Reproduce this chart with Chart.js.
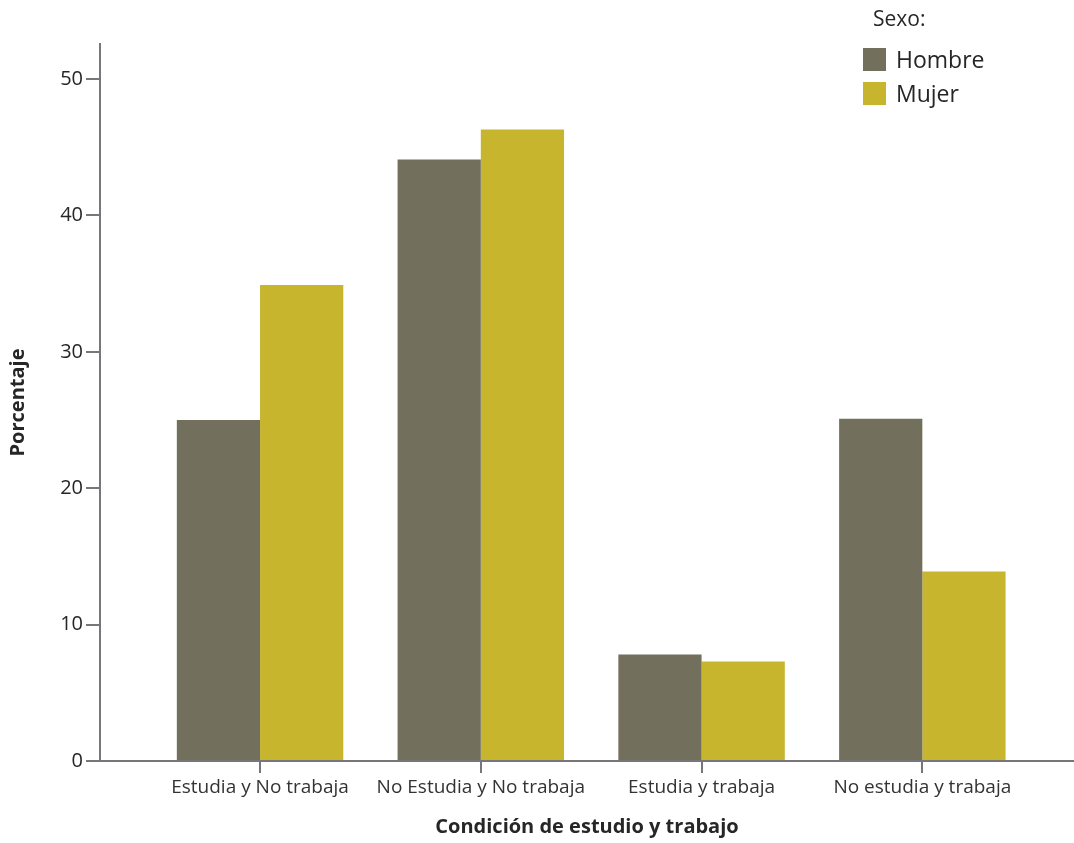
<!DOCTYPE HTML>
<html>
<head>
   <meta charset="utf-8">
   <title>Condición de estudio y trabajo</title>
   <script src="https://cdn.jsdelivr.net/npm/chart.js"></script>
   <style>
     body { margin: 0; background: #fff; font-family: "Open Sans", sans-serif; }
     #wrap { position: relative; width: 1074px; height: 843px; }
     #legend { position: absolute; left: 863px; top: 4px; color: #262626; }
     #legend .ttl { font-size: 21px; margin-left: 10px; height: 38px; }
     #legend .row { display: flex; align-items: center; height: 34px; font-size: 23px; }
     #legend .box { width: 23px; height: 23px; margin-right: 10px; }
   </style>
</head>
<body>
  <div id="wrap">
    <canvas id="myChart"></canvas>
    <div id="legend"></div>
  </div>

  <script type="text/javascript">
    var categorias = ["Estudia y No trabaja", "No Estudia y No trabaja", "Estudia y trabaja", "No estudia y trabaja"];
    var hombre = [25.0, 44.1, 7.8, 25.1];
    var mujer  = [34.9, 46.3, 7.3, 13.9];
    var yTicks = [0, 10, 20, 30, 40, 50];

    var colores = { hombre: '#72705c', mujer: '#c6b52d' };
    var gris = '#77777b';

    // bars on a linear x scale so the axis can run past the outer categories
    function puntos(arr) {
      return arr.map(function (v, i) { return { x: i, y: v }; });
    }

    var ctx = document.getElementById('myChart');
    var myChart = new Chart(ctx, {
      type: 'bar',
      data: {
        datasets: [
          { label: 'Hombre', data: puntos(hombre), backgroundColor: colores.hombre },
          { label: 'Mujer',  data: puntos(mujer),  backgroundColor: colores.mujer }
        ]
      },
      options: {
        responsive: true,
        maintainAspectRatio: false,
        animation: false,
        barPercentage: 1,
        categoryPercentage: 0.754,
        layout: { padding: { top: 44, left: 0, right: 0, bottom: 0 } },
        plugins: {
          legend: { display: false },
          tooltip: { enabled: false }
        },
        scales: {
          x: {
            type: 'linear',
            offset: false,
            min: -0.725,
            max: 3.687,
            afterBuildTicks: function (s) {
              s.ticks = categorias.map(function (c, i) { return { value: i }; });
            },
            afterFit: function (s) { s.height = 82; },
            border: { display: true, color: gris, width: 2 },
            grid: { drawOnChartArea: false, offset: false, color: gris, lineWidth: 2, tickLength: 12 },
            ticks: {
              autoSkip: false,
              maxRotation: 0,
              padding: 3,
              color: '#333333',
              font: { family: 'Open Sans', size: 19 },
              callback: function (v) { return categorias[v]; }
            },
            title: {
              display: true,
              text: 'Condición de estudio y trabajo',
              color: '#262626',
              font: { family: 'Open Sans', size: 20, weight: 'bold' },
              padding: { top: 0, bottom: 4 }
            }
          },
          y: {
            min: 0,
            max: 52.57,
            afterBuildTicks: function (s) {
              s.ticks = yTicks.map(function (v) { return { value: v }; });
            },
            afterFit: function (s) { s.width = 100; },
            border: { display: true, color: gris, width: 2 },
            grid: { drawOnChartArea: false, color: gris, lineWidth: 2, tickLength: 14 },
            ticks: {
              padding: 3,
              color: '#262626',
              font: { family: 'Open Sans', size: 20 }
            },
            title: {
              display: true,
              text: 'Porcentaje',
              color: '#262626',
              font: { family: 'Open Sans', size: 20, weight: 'bold' },
              padding: { top: 6, bottom: 0 }
            }
          }
        }
      }
    });

    // legend from the datasets
    var lg = document.getElementById('legend');
    var html = '<div class="ttl">Sexo:</div>';
    myChart.data.datasets.forEach(function (d) {
      html += '<div class="row"><div class="box" style="background:' + d.backgroundColor + '"></div>' + d.label + '</div>';
    });
    lg.innerHTML = html;
  </script>
</body>
</html>
